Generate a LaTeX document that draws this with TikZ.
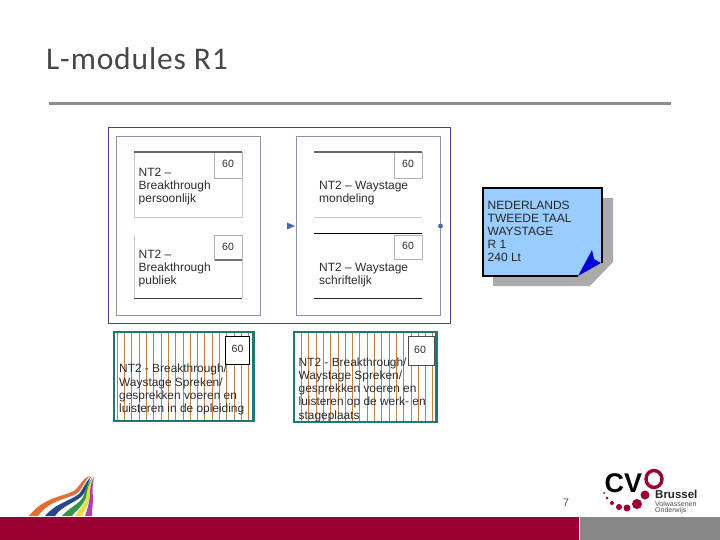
\documentclass[tikz,border=0pt]{standalone}
\usepackage{fontspec}
\setmainfont{Liberation Sans}
\newfontfamily\titlefont[LetterSpace=2.7]{Carlito}
\definecolor{crim}{RGB}{155,0,51}
\definecolor{rulegray}{RGB}{140,140,140}
\definecolor{navy}{RGB}{70,70,135}
\definecolor{inner}{RGB}{140,145,175}
\definecolor{tealb}{RGB}{30,120,115}
\definecolor{hatch}{RGB}{190,130,70}
\definecolor{noteblue}{RGB}{153,204,255}
\definecolor{marker}{RGB}{75,105,170}
\definecolor{txt}{RGB}{45,45,45}
\definecolor{rbo}{RGB}{225,110,50}
\definecolor{rbb}{RGB}{40,70,140}
\definecolor{rbg}{RGB}{50,150,70}
\definecolor{rby}{RGB}{225,225,70}
\definecolor{rbp}{RGB}{170,70,170}
\tikzset{
  x=1pt,y=-1pt,
  lbl/.style={anchor=north west,inner sep=0pt,font=\fontsize{12}{13.3}\selectfont,text=txt,align=left},
  hlbl/.style={anchor=north west,inner sep=0pt,font=\fontsize{11.9}{13.2}\selectfont,text=txt,align=left},
  numbox/.style={draw=black!30,line width=.7pt,fill=white},
  num/.style={inner sep=0pt,font=\fontsize{10.5}{11}\selectfont,text=txt},
  innerbox/.style={draw=inner,line width=.9pt,fill=white},
  hbox/.style={draw=tealb,line width=2.8pt},
  hline/.style={draw=hatch,line width=.9pt},
}
\begin{document}
\begin{tikzpicture}
\useasboundingbox (0,0) rectangle (720,540);
\fill[white] (0,0) rectangle (720,540);
% title and rule
\node[anchor=base west,inner sep=0pt,font=\titlefont\fontsize{31.5}{34}\selectfont,text=black!72] (title) at (46,70) {L-modules R1};
\fill[rulegray] (49,102) rectangle (671,105.5);
% outer frames
\draw[draw=navy,line width=1pt,fill=white] (108.5,127.5) rectangle (450,323);
\draw[innerbox] (116.5,136.5) rectangle (260.5,315);
\draw[innerbox] (296.5,136.5) rectangle (440.5,315);
% left boxes
\draw[black!20,line width=.7pt] (134,152) -- (134,217) -- (242,217) -- (242,152);
\draw[black!20,line width=.7pt] (134,235) -- (134,298) (242,235) -- (242,298);
\draw[numbox] (214.5,152) rectangle (242,178);
\draw[numbox] (214.5,235) rectangle (242,260);
\draw[black!60,line width=1.3pt] (134,152) -- (242,152);
\draw[black!55,line width=1.3pt] (214.5,260) -- (242,260);
\draw[black!75,line width=.8pt] (134,298) -- (242,298);
\node[num] (n1) at (228,164) {60};
\node[num] (n2) at (228,246.5) {60};
\node[lbl] (t1) at (138.5,167.5) {NT2 --\\Breakthrough\\persoonlijk};
\node[lbl] (t2) at (138.5,249.5) {NT2 --\\Breakthrough\\publiek};
% right boxes
\draw[numbox] (394.5,152) rectangle (422,178);
\draw[numbox] (394.5,235) rectangle (422,259);
\draw[black!60,line width=1.2pt] (314,152) -- (422,152);
\draw[black!20,line width=.7pt] (314,217) -- (422,217);
\draw[black,line width=.8pt] (314,233.5) -- (422,233.5);
\draw[black!85,line width=.8pt] (314,298) -- (422,298);
\node[num] (n3) at (408,164) {60};
\node[num] (n4) at (408,245.5) {60};
\node[lbl] (t3) at (319,181) {NT2 -- Waystage\\mondeling};
\node[lbl] (t4) at (319,262.5) {NT2 -- Waystage\\schriftelijk};
% markers
\fill[marker] (287,222.5) -- (295,226) -- (287,229.5) -- cycle;
\fill[marker] (440.5,226) circle (2.4);
% hatched boxes
\begin{scope}
\clip (114,332) rectangle (253.5,421);
\foreach \i in {0,...,18} \draw[hline] ({117.3+7.3*\i},332) -- ({117.3+7.3*\i},421);
\end{scope}
\draw[hbox] (114,332) rectangle (253.5,421);
\draw[black,line width=.8pt,fill=white] (225,336) rectangle (249,364.5);
\node[num] (n5) at (237.5,349) {60};
\node[hlbl] (t5) at (119,364) {NT2 - Breakthrough/\\Waystage Spreken/\\gesprekken voeren en\\luisteren in de opleiding};
\begin{scope}
\clip (294,332) rectangle (436.5,422);
\foreach \i in {0,...,18} \draw[hline] ({301.5+7.3*\i},332) -- ({301.5+7.3*\i},422);
\end{scope}
\draw[hbox] (294,332) rectangle (436.5,422);
\draw[black!70,line width=.8pt,fill=white] (408,336) rectangle (434,365);
\node[num] (n6) at (420,349.5) {60};
\node[hlbl] (t6) at (298.5,357.5) {NT2 - Breakthrough/\\Waystage Spreken/\\gesprekken voeren en\\luisteren op de werk- en\\stageplaats};
% note
\fill[black!33] (493,198) -- (613,198) -- (613,262) -- (590,286) -- (493,286) -- cycle;
\fill[noteblue] (482.5,188.5) -- (601.5,188.5) -- (601.5,263) -- (578,275.5) -- (482.5,275.5) -- cycle;
\draw[black,line width=2pt] (578,275.5) -- (482.5,275.5) -- (482.5,188.5) -- (601.5,188.5) -- (601.5,263);
\fill[blue!85!black] (578,276) -- (592,250) -- (594,259) -- (601,263) -- cycle;
\node[anchor=north west,inner sep=0pt,font=\fontsize{12}{13.1}\selectfont,text=black!85,align=left] (note) at (487.5,200.5) {NEDERLANDS\\TWEEDE TAAL\\WAYSTAGE\\R 1\\240 Lt};
% left logo
\fill[rbo] (29,516) .. controls (44,497) and (62,497) .. (74,491) .. controls (80,487) and (82,478) .. (90,476) .. controls (85,480) and (82,490) .. (76,494) .. controls (64,500) and (50,500) .. (38,516) -- cycle;
\fill[rbb] (45,516) .. controls (56,503) and (68,502) .. (79,494) .. controls (83,490) and (85,482) .. (91,477) .. controls (87,484) and (87,491) .. (81,497) .. controls (72,504) and (62,506) .. (55,516) -- cycle;
\fill[rbg] (62,516) .. controls (70,507) and (78,505) .. (83,497) .. controls (85,492) and (87,484) .. (92,478) .. controls (89,485) and (88,494) .. (85,500) .. controls (81,508) and (76,510) .. (72,516) -- cycle;
\fill[rby] (75,516) .. controls (79,510) and (84,506) .. (86,498) .. controls (87,491) and (88,484) .. (93,478) .. controls (91,485) and (90,492) .. (89,500) .. controls (88,507) and (84,511) .. (82,516) -- cycle;
\fill[rbp] (85,516) .. controls (88,508) and (89,503) .. (90,494) .. controls (90,488) and (91,482) .. (94,477) .. controls (93,483) and (92,489) .. (93,497) .. controls (93,504) and (92,510) .. (92,516) -- cycle;
% footer
\fill[crim] (0,517) rectangle (579,540);
\fill[black!47] (580,517) rectangle (720,540);
\node[inner sep=0pt,font=\fontsize{11}{12}\selectfont,text=black!65] (page) at (566,503) {7};
% CVO logo
\node[anchor=base west,inner sep=0pt,font=\bfseries\fontsize{27}{30}\selectfont,text=black] (cv) at (604.5,492) {CV};
\draw[crim,line width=3.4pt] (654,479) ellipse (8 and 8.5);
\foreach \x/\y/\r in {604/493/1,607/498/1.5,612/503/2,619/507/3,627/508/3.5,637/504/5,645/495/4.5}
  \fill[crim] (\x,\y) circle (\r);
\node[anchor=base west,inner sep=0pt,font=\bfseries\fontsize{11.5}{12}\selectfont,text=black!85] (br) at (655,498) {Brussel};
\node[anchor=base west,inner sep=0pt,font=\fontsize{7}{8}\selectfont,text=black!70] (vo) at (655,506) {Volwassenen};
\node[anchor=base west,inner sep=0pt,font=\fontsize{7}{8}\selectfont,text=black!70] (on) at (655,512.5) {Onderwijs};
\end{tikzpicture}
\end{document}
